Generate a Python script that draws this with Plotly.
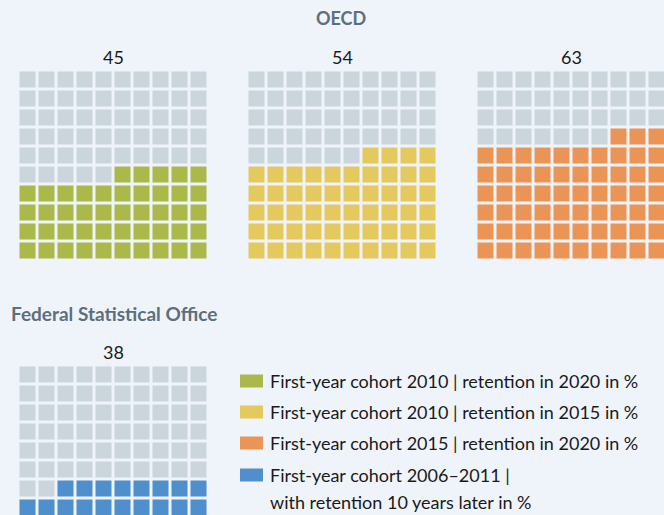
import plotly.graph_objects as go

# ---- data ----
oecd_labels = ["45", "54", "63"]
oecd_values = [45, 54, 63]
oecd_colors = ["#aab94a", "#e4c95e", "#ea9555"]
fso_value = 38
fso_color = "#4f8fcc"
legend_texts = [
    "First-year cohort 2010 | retention in 2020 in %",
    "First-year cohort 2010 | retention in 2015 in %",
    "First-year cohort 2015 | retention in 2020 in %",
    "First-year cohort 2006–2011 |",
]
legend_text_extra = "with retention 10 years later in %"
legend_colors = oecd_colors + [fso_color]
title_oecd = "OECD"
title_fso = "Federal Statistical Office"

GRAY = "#cad5dc"
BG = "#eff4fb"
TITLE_COLOR = "#5d6f7b"
FONT = "Lato"
W, H = 664, 515
PITCH = 19
GAP = 3


def waffle_z(value):
    """rows from top (0) to bottom (9); fill from bottom, partial row right-aligned"""
    full = value // 10
    part = value % 10
    z = []
    for r_top in range(10):
        r = 9 - r_top
        row = []
        for c in range(10):
            on = r < full or (r == full and c >= 10 - part)
            row.append(1 if on else 0)
        z.append(row)
    return z


def px_x(p):
    return max(0.0, min(1.0, p / W))


def px_y(p):
    return max(0.0, min(1.0, 1 - p / H))


fig = go.Figure()

grids = []
for i, (v, col) in enumerate(zip(oecd_values, oecd_colors)):
    left = 20 + 229 * i - GAP / 2
    top = 72 - GAP / 2
    grids.append((v, col, left, top))
grids.append((fso_value, fso_color, 20 - GAP / 2, 367 - GAP / 2))

layout_axes = {}
for k, (v, col, left, top) in enumerate(grids):
    idx = "" if k == 0 else str(k + 1)
    right = min(left + 10 * PITCH, W)
    bottom = min(top + 10 * PITCH, H)
    xr = [-0.5, -0.5 + (right - left) / PITCH]
    yr = [-0.5 + (bottom - top) / PITCH, -0.5]
    fig.add_trace(go.Heatmap(
        z=waffle_z(v), x=list(range(10)), y=list(range(10)),
        colorscale=[[0, GRAY], [0.5, GRAY], [0.5, col], [1, col]],
        zmin=0, zmax=1, showscale=False, xgap=GAP, ygap=GAP,
        hoverinfo="skip", xaxis="x" + idx, yaxis="y" + idx,
    ))
    layout_axes["xaxis" + idx] = dict(
        domain=[px_x(left), px_x(right)], range=xr, visible=False,
        fixedrange=True, anchor="y" + idx)
    layout_axes["yaxis" + idx] = dict(
        domain=[px_y(bottom), px_y(top)], range=yr, visible=False,
        fixedrange=True, anchor="x" + idx)

annotations = []
# titles
annotations.append(dict(text="<b>" + title_oecd + "</b>", x=px_x(341.5), y=px_y(18.5),
                        xref="paper", yref="paper", showarrow=False,
                        font=dict(family=FONT, size=18, color=TITLE_COLOR),
                        xanchor="center", yanchor="middle"))
annotations.append(dict(text="<b>" + title_fso + "</b>", x=px_x(9), y=px_y(313),
                        xref="paper", yref="paper", showarrow=False,
                        font=dict(family=FONT, size=19, color=TITLE_COLOR),
                        xanchor="left", yanchor="middle"))
# numbers
labels = oecd_labels + [str(fso_value)]
label_y = [57, 57, 57, 352]
for k, (g, lab) in enumerate(zip(grids, labels)):
    cx = g[2] + 10 * PITCH / 2
    annotations.append(dict(text=lab, x=px_x(cx), y=px_y(label_y[k]),
                            xref="paper", yref="paper", showarrow=False,
                            font=dict(family=FONT, size=18, color="#1a1a1a"),
                            xanchor="center", yanchor="middle"))

# legend
shapes = []
leg_y = [381, 412, 443, 475]
for t, c, yc in zip(legend_texts, legend_colors, leg_y):
    shapes.append(dict(type="rect", xref="paper", yref="paper",
                       x0=px_x(240), x1=px_x(263), y0=px_y(yc + 6.5), y1=px_y(yc - 6.5),
                       fillcolor=c, line=dict(width=0)))
    annotations.append(dict(text=t, x=px_x(268), y=px_y(yc), xref="paper", yref="paper",
                            showarrow=False, xanchor="left", yanchor="middle",
                            font=dict(family=FONT, size=18, color="#1a1a1a")))
annotations.append(dict(text=legend_text_extra, x=px_x(268), y=px_y(502),
                        xref="paper", yref="paper", showarrow=False,
                        xanchor="left", yanchor="middle",
                        font=dict(family=FONT, size=18, color="#1a1a1a")))

fig.update_layout(
    width=W, height=H, margin=dict(l=0, r=0, t=0, b=0),
    paper_bgcolor=BG, plot_bgcolor=BG, showlegend=False,
    annotations=annotations, shapes=shapes, **layout_axes,
)

fig.write_html(
    "out.html", config={"displayModeBar": False},
    post_script="document.body.style.margin='0';document.body.style.background='" + BG + "';",
)
